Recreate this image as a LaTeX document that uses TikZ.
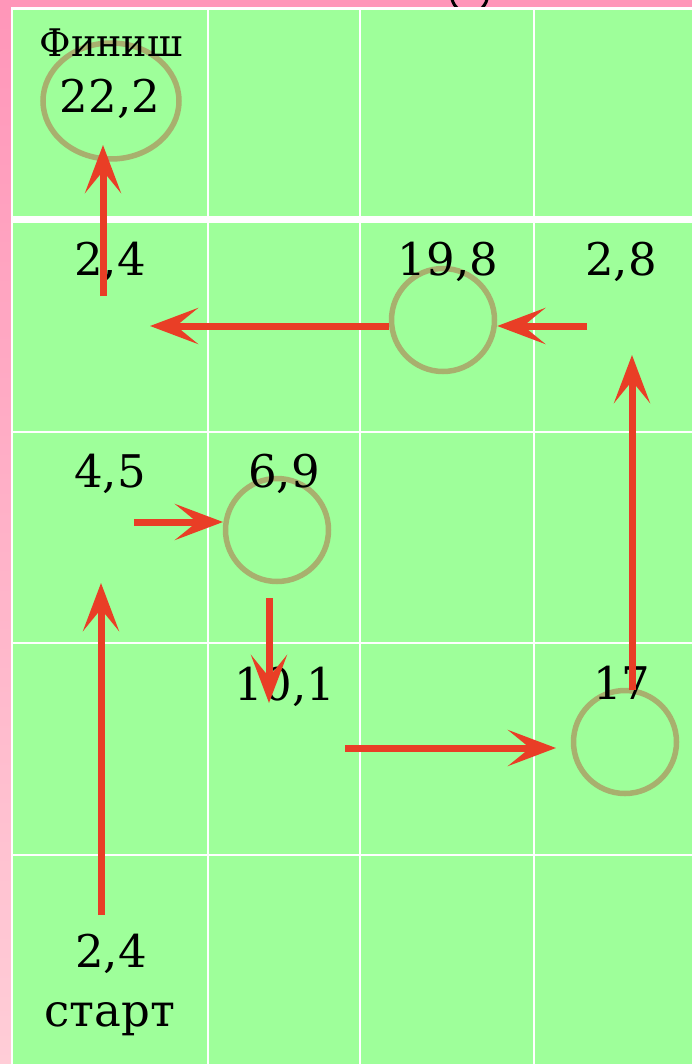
\documentclass[tikz,border=0pt]{standalone}
\usepackage{fontspec}
\setmainfont{DejaVu Serif}
\usetikzlibrary{arrows.meta, positioning, shapes.geometric}

\definecolor{cellgreen}{RGB}{158,255,154}
\definecolor{ringolive}{RGB}{168,176,110}
\definecolor{pinktop}{RGB}{255,150,185}
\definecolor{pinkbot}{RGB}{255,205,215}
\definecolor{moveRed}{RGB}{233,62,38}

\begin{document}
\begin{tikzpicture}[
  x=0.5pt, y=-0.5pt,
  num/.style={anchor=base, inner sep=0pt, font=\fontsize{22.5}{26}\selectfont},
  caption/.style={anchor=base, inner sep=0pt, font=\fontsize{19}{22}\selectfont},
  ring/.style={circle, draw=ringolive, line width=2.75pt, minimum size=51.5pt, inner sep=0pt},
  finring/.style={ellipse, draw=ringolive, line width=2.75pt, minimum width=68pt, minimum height=58pt, inner sep=0pt},
  move/.style={draw=moveRed, line width=3.5pt, -{Stealth[length=24pt, width=18pt, inset=11pt]}}
]
  \useasboundingbox (0,0) rectangle (692,1064);

  % pink frame and the cut glyph at the top
  \shade[top color=pinktop, bottom color=pinkbot] (0,0) rectangle (12,1064);
  \fill[pinktop] (0,0) rectangle (692,8);
  \draw[line width=1.5pt] (469.5,-5) circle (18);

  % board
  \fill[white] (11,7) rectangle (692,1064);
  \fill[cellgreen] (13,10) rectangle (692,1064);
  \foreach \x in {208,360,534}
    \draw[white, line width=1.25pt] (\x,10) -- (\x,1064);
  \foreach \y in {432,643,855}
    \draw[white, line width=1.25pt] (13,\y) -- (692,\y);
  \draw[white, line width=3.5pt] (13,220) -- (692,220);

  % rings
  \node[finring] (fin) at (111,101) {};
  \node[ring] (c198) at (443,320) {};
  \node[ring] (c69) at (277,530) {};
  \node[ring] (c17) at (625,742) {};

  % values
  \node[caption] (lblfin) at (111,57) {Финиш};
  \node[num] (v222) at (110,113) {22,2};
  \node[num] (v24a) at (110,275) {2,4};
  \node[num] (v198) at (448,275) {19,8};
  \node[num] (v28) at (621,275) {2,8};
  \node[num] (v45) at (110,487) {4,5};
  \node[num] (v69) at (284,487) {6,9};
  \node[num] (v101) at (285,700) {10,1};
  \node[num] (v17) at (622,699) {17};
  \node[num] (v24s) at (111,967) {2,4};
  \node[num] (lblstart) at (110,1026) {старт};

  % arrow ends
  \coordinate (a1s) at (101,915);
  \coordinate (a1e) at (101,583);
  \coordinate (a2s) at (134,522);
  \coordinate (a2e) at (223,522);
  \coordinate (a3s) at (269,598);
  \coordinate (a3e) at (269,703);
  \coordinate (a4s) at (345,748);
  \coordinate (a4e) at (556,748);
  \coordinate (a5s) at (632,690);
  \coordinate (a5e) at (632,355);
  \coordinate (a6s) at (587,326);
  \coordinate (a7e) at (150,326);
  \coordinate (a8s) at (103,296);
  \coordinate (a8e) at (103,145);

  % path
  \draw[move] (a1s) -- (a1e);
  \draw[move] (a2s) -- (a2e);
  \draw[move] (a3s) -- (a3e);
  \draw[move] (a4s) -- (a4e);
  \draw[move] (a5s) -- (a5e);
  \draw[move] (a6s) -- (a6s -| c198.east);
  \draw[move] (a7e -| c198.west) -- (a7e);
  \draw[move] (a8s) -- (a8e);
\end{tikzpicture}
\end{document}
